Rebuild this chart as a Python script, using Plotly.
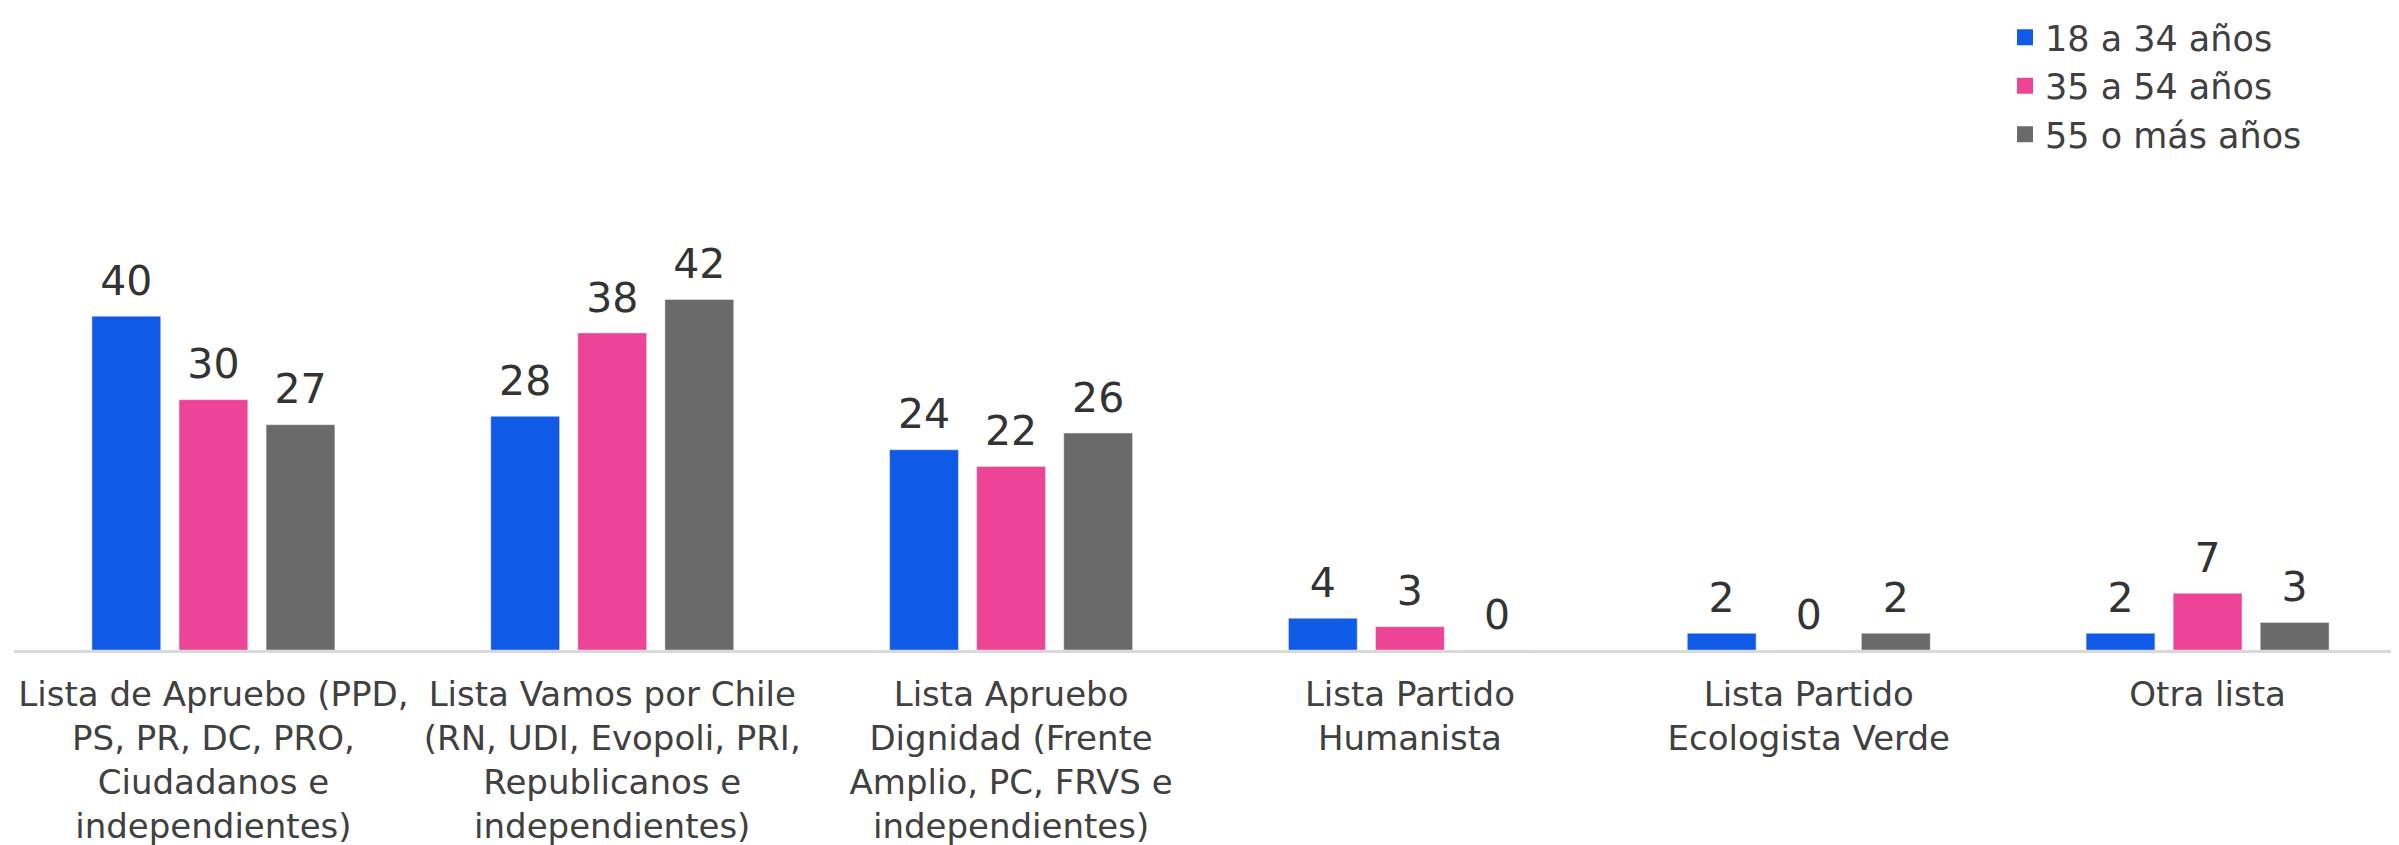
import plotly.graph_objects as go

CATEGORIAS = [
    "Lista de Apruebo (PPD,<br>PS, PR, DC, PRO,<br>Ciudadanos e<br>independientes)",
    "Lista Vamos por Chile<br>(RN, UDI, Evopoli, PRI,<br>Republicanos e<br>independientes)",
    "Lista Apruebo<br>Dignidad (Frente<br>Amplio, PC, FRVS e<br>independientes)",
    "Lista Partido<br>Humanista",
    "Lista Partido<br>Ecologista Verde",
    "Otra lista",
]
SERIES = ["18 a 34 años", "35 a 54 años", "55 o más años"]
VALORES_18_34 = [40, 28, 24, 3.8, 2, 2]
VALORES_35_54 = [30, 38, 22, 2.8, 0, 6.8]
VALORES_55_MAS = [27, 42, 26, 0, 2, 3.3]
COLORES = ["#0F5AE6", "#EE4497", "#6A6A6A"]
GRUPOS = ["g1", "g2", "g3"]

FUENTE = "DejaVu Sans"
TEXTO = "#404040"

VALORES = (VALORES_18_34, VALORES_35_54, VALORES_55_MAS)

fig = go.Figure()
for nombre, valores, color, grupo in zip(SERIES, VALORES, COLORES, GRUPOS):
    fig.add_trace(
        go.Bar(
            x=CATEGORIAS,
            y=valores,
            name=nombre,
            marker_color=color,
            offsetgroup=grupo,
            showlegend=False,
        )
    )
# etiquetas de valor: scatter agrupado (marcador invisible para separar el texto de la barra)
for nombre, valores, color, grupo in zip(SERIES, VALORES, COLORES, GRUPOS):
    fig.add_trace(
        go.Scatter(
            x=CATEGORIAS,
            y=valores,
            mode="markers+text",
            text=[f"{v:.0f}" for v in valores],
            textposition="top center",
            textfont={"size": 41, "color": "#333333", "family": FUENTE},
            marker={"size": 16, "opacity": 0},
            offsetgroup=grupo,
            cliponaxis=False,
            showlegend=False,
            hoverinfo="skip",
        )
    )
# leyenda con cuadrados más grandes
for nombre, color, grupo in zip(SERIES, COLORES, GRUPOS):
    fig.add_trace(
        go.Scatter(
            x=[None],
            y=[None],
            mode="markers",
            name=nombre,
            offsetgroup=grupo,
            marker={"symbol": "square", "size": 16, "color": color},
        )
    )

fig.update_layout(
    barmode="group",
    scattermode="group",
    bargap=0.345,
    bargroupgap=0.21,
    width=2399,
    height=845,
    plot_bgcolor="white",
    paper_bgcolor="white",
    font={"family": FUENTE, "color": TEXTO, "size": 34},
    margin={"t": 150, "b": 203, "l": 6, "r": 0},
    legend={
        "x": 0.832,
        "xanchor": "left",
        "y": 1.327,
        "yref": "paper",
        "yanchor": "top",
        "font": {"size": 35, "color": TEXTO},
        "itemwidth": 30,
        "tracegroupgap": 0,
        "bgcolor": "rgba(0,0,0,0)",
    },
)
fig.update_xaxes(
    showline=True,
    linecolor="#D9D9D9",
    linewidth=3,
    tickfont={"size": 34, "color": TEXTO},
    ticklabelstandoff=12,
    showgrid=False,
)
fig.update_yaxes(visible=False, range=[0, 58], showgrid=False, zeroline=False)

fig.write_html("out.html")
